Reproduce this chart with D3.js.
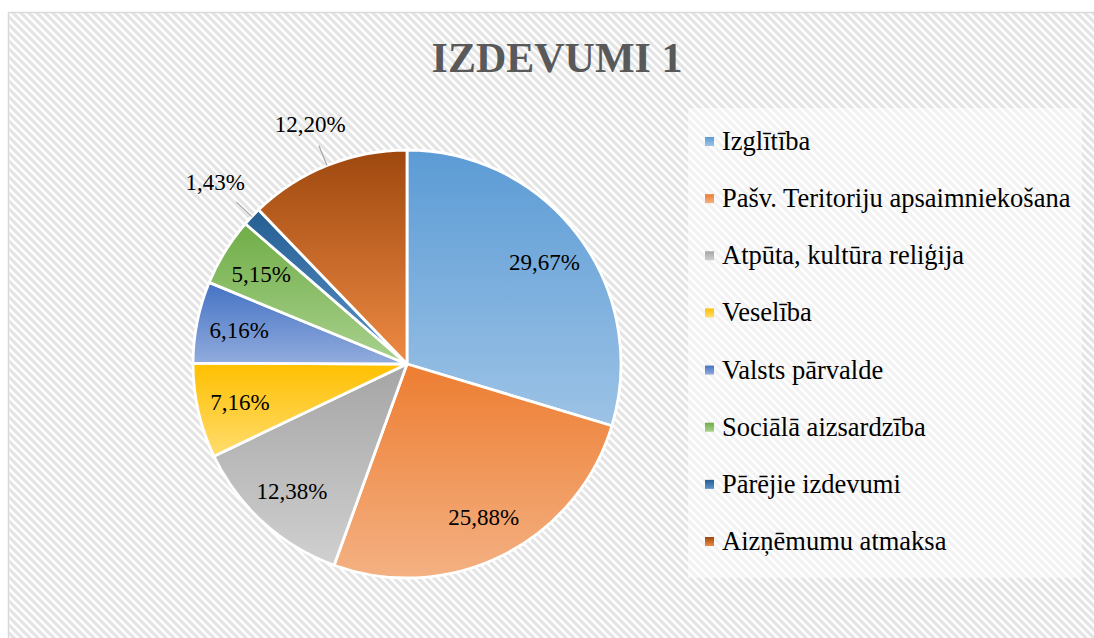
<!DOCTYPE html>
<html>
<head>
<meta charset="utf-8">
<script src="https://cdn.jsdelivr.net/npm/d3@7"></script>
<style>
  html, body { margin: 0; padding: 0; background: #fff; }
  svg { display: block; }
</style>
</head>
<body>
<svg id="chart" width="1094" height="638"></svg>
<script>
// data
var categories = [
    "Izglītība",
    "Pašv. Teritoriju apsaimniekošana",
    "Atpūta, kultūra reliģija",
    "Veselība",
    "Valsts pārvalde",
    "Sociālā aizsardzība",
    "Pārējie izdevumi",
    "Aizņēmumu atmaksa"
];
var shares = [29.67, 25.88, 12.38, 7.16, 6.16, 5.15, 1.43, 12.20];
var valueLabels = ["29,67%", "25,88%", "12,38%", "7,16%", "6,16%", "5,15%", "1,43%", "12,20%"];
var outsideLabels = ["Pārējie izdevumi", "Aizņēmumu atmaksa"];
var titleText = "IZDEVUMI 1";

// gradient colours, top -> bottom
var topColors = ["#5b9bd5", "#ed7d31", "#a5a5a5", "#ffc000", "#4472c4", "#70ad47", "#255e91", "#9e480e"];
var bottomColors = ["#9dc3e6", "#f4b183", "#d0d0d0", "#ffdc6e", "#92acdd", "#a9d18e", "#5b93cc", "#ee8a44"];

var width = 1094, height = 638;
var cx = 407, cy = 364, radius = 214;
var serif = "Liberation Serif, Times New Roman, serif";

var svg = d3.select("#chart");
var defs = svg.append("defs");

/* hatched background */
var pat = defs.append("pattern")
    .attr("id", "hatch")
    .attr("patternUnits", "userSpaceOnUse")
    .attr("width", 8)
    .attr("height", 8);
pat.append("rect").attr("width", 8).attr("height", 8).attr("fill", "#ffffff");
pat.append("path")
    .attr("d", "M0,0 L8,8 M-4,4 L4,12 M4,-4 L12,4")
    .attr("stroke", "#e4e4e4")
    .attr("stroke-width", 3.2);

svg.append("rect")
    .attr("x", 8.5).attr("y", 12.5)
    .attr("width", 1100).attr("height", 640)
    .attr("fill", "url(#hatch)")
    .attr("stroke", "#d9d9d9")
    .attr("stroke-width", 1.5);

/* gradients */
categories.forEach(function(c, i) {
    var g = defs.append("linearGradient")
        .attr("id", "grad" + i)
        .attr("x1", 0).attr("y1", 0)
        .attr("x2", 0).attr("y2", 1);
    g.append("stop").attr("offset", "0%").attr("stop-color", topColors[i]);
    g.append("stop").attr("offset", "100%").attr("stop-color", bottomColors[i]);
});

/* title */
svg.append("text")
    .attr("x", 557)
    .attr("y", 72)
    .attr("text-anchor", "middle")
    .style("font-family", serif)
    .attr("font-weight", "bold")
    .attr("font-size", 42)
    .attr("fill", "#595959")
    .text(titleText);

/* pie */
var pieData = d3.pie().sort(null).value(function(d) { return d; })(shares);
var arc = d3.arc().innerRadius(0).outerRadius(radius);
var labelArc = d3.arc().innerRadius(radius * 0.8).outerRadius(radius * 0.8);

var pieG = svg.append("g")
    .attr("transform", "translate(" + cx + "," + cy + ")");

pieG.selectAll("path.slice")
    .data(pieData)
    .join("path")
    .attr("class", "slice")
    .attr("d", arc)
    .attr("fill", function(d, i) { return "url(#grad" + i + ")"; })
    .attr("stroke", "#ffffff")
    .attr("stroke-width", 2.8)
    .attr("stroke-linejoin", "round");

// inside labels
pieG.selectAll("text.inlabel")
    .data(pieData.filter(function(d, i) { return outsideLabels.indexOf(categories[i]) < 0; }))
    .join("text")
    .attr("class", "inlabel")
    .attr("transform", function(d) { return "translate(" + labelArc.centroid(d) + ")"; })
    .attr("text-anchor", "middle")
    .attr("dy", "0.35em")
    .style("font-family", serif)
    .attr("font-size", 23)
    .attr("fill", "#000")
    .text(function(d) { return valueLabels[d.index]; });

// outside labels with leader lines
pieData.forEach(function(d, i) {
    if (outsideLabels.indexOf(categories[i]) < 0) return;
    var a = (d.startAngle + d.endAngle) / 2;
    var s = Math.sin(a), c = -Math.cos(a);
    var t = pieG.append("text")
        .attr("text-anchor", "middle")
        .attr("dy", "0.35em")
        .style("font-family", serif)
        .attr("font-size", 23)
        .attr("fill", "#000")
        .text(valueLabels[i]);
    var w = t.node().getComputedTextLength();
    var dist = radius * 1.1 + (w / 2) * Math.abs(s) + 11 * Math.abs(c);
    t.attr("x", s * dist).attr("y", c * dist);
    pieG.insert("line", "text")
        .attr("x1", s * radius).attr("y1", c * radius)
        .attr("x2", s * radius * 1.1).attr("y2", c * radius * 1.1)
        .attr("stroke", "#a6a6a6")
        .attr("stroke-width", 1.2);
});

/* legend */
var legend = svg.append("g");
legend.append("rect")
    .attr("x", 688).attr("y", 108)
    .attr("width", 394).attr("height", 470)
    .attr("fill", "#ffffff")
    .attr("fill-opacity", 0.5);

var rowY = d3.scalePoint()
    .domain(categories)
    .range([150, 550]);

var rows = legend.selectAll("g.row")
    .data(categories)
    .join("g")
    .attr("class", "row")
    .attr("transform", function(d) { return "translate(705," + rowY(d) + ")"; });

rows.append("rect")
    .attr("x", 0).attr("y", -13)
    .attr("width", 9).attr("height", 9)
    .attr("fill", function(d, i) { return "url(#grad" + i + ")"; });

rows.append("text")
    .attr("x", 17).attr("y", 0)
    .style("font-family", serif)
    .attr("font-size", 26.5)
    .attr("fill", "#000")
    .text(function(d) { return d; });
</script>
</body>
</html>
